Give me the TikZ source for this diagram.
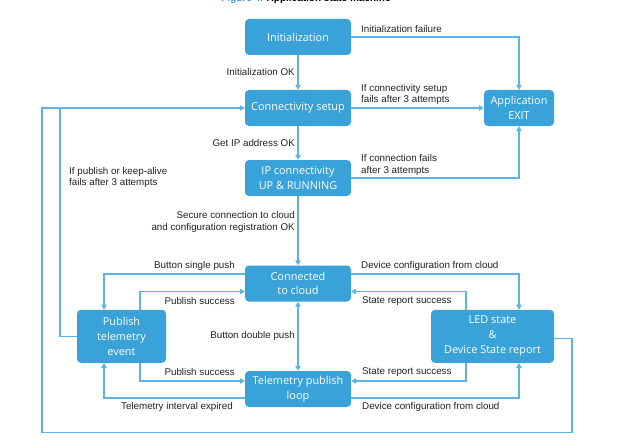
\documentclass[tikz,border=0pt]{standalone}
\usepackage{fontspec}
\setmainfont{Liberation Sans}
\newfontfamily\boxfont{Open Sans}
\usetikzlibrary{arrows.meta}
\definecolor{boxblue}{HTML}{38A2D9}
\definecolor{lineblue}{HTML}{5DB3E2}
\definecolor{labelgray}{HTML}{222222}
\tikzset{
  state/.style={fill=boxblue, rounded corners=4pt, text=white, font=\boxfont\fontsize{10.9}{15}\selectfont, align=center, inner sep=0pt, minimum height=36pt},
  lbl/.style={font=\fontsize{9.8}{11.5}\selectfont, text=labelgray, inner sep=0pt},
  conn/.style={draw=lineblue, line width=1.1pt},
  arr/.style={conn, -{Triangle[length=5pt,width=5.5pt]}},
  darr/.style={conn, {Triangle[length=5pt,width=5.5pt]}-{Triangle[length=5pt,width=5.5pt]}}
}
\begin{document}
\begin{tikzpicture}[x=1pt,y=-1pt]
\useasboundingbox (0,0) rectangle (624,444);
\fill[white] (0,0) rectangle (624,444);
% title (cut off at top)
\node[anchor=base, inner sep=0pt, font=\bfseries\fontsize{10}{12}\selectfont] (title) at (306,1.5) {\textcolor{boxblue}{Figure 4.} Application state machine};
% states
\node[state, minimum width=106pt] (init) at (298,37) {Initialization};
\node[state, minimum width=106pt] (conn) at (298,108) {Connectivity setup};
\node[state, minimum width=70pt] (exit) at (519,108) {Application\\EXIT};
\node[state, minimum width=106pt, font=\boxfont\fontsize{10.9}{14.5}\selectfont] (ip) at (298,178) {IP connectivity\\UP \& RUNNING};
\node[state, minimum width=106pt, font=\boxfont\fontsize{10.9}{14.5}\selectfont] (cloud) at (298,283.5) {Connected\\to cloud};
\node[state, minimum width=89pt, minimum height=53pt] (pub) at (121.5,336.3) {Publish\\telemetry\\event};
\node[state, minimum width=123pt, minimum height=53pt] (led) at (492.5,336.3) {LED state\\\&\\Device State report};
\node[state, minimum width=106pt, font=\boxfont\fontsize{10.9}{14.5}\selectfont] (tel) at (298,389) {Telemetry publish\\loop};
% helper coordinates
\coordinate (o1) at (572,432.7);
\coordinate (o2) at (42,432.7);
\coordinate (j) at (60,108);
% connectors
\draw[arr] (init.east) -| (exit.north);
\draw[arr] (init.south) -- (conn.north);
\draw[arr] (conn.east) -- (exit.west);
\draw[arr] (conn.south) -- (ip.north);
\draw[arr] (ip.east) -| (exit.south);
\draw[arr] (ip.south) -- (cloud.north);
\draw[arr] ([yshift=9.5pt]cloud.west) -| ([xshift=-17.5pt]pub.north);
\draw[arr] ([xshift=18.5pt]pub.north) |- ([yshift=-8pt]cloud.west);
\draw[arr] ([yshift=9.5pt]cloud.east) -| ([xshift=26.5pt]led.north);
\draw[arr] ([xshift=-26.5pt]led.north) |- ([yshift=-8pt]cloud.east);
\draw[darr] (cloud.south) -- (tel.north);
\draw[arr] ([xshift=18.5pt]pub.south) |- ([yshift=8pt]tel.west);
\draw[arr] ([yshift=-9pt]tel.west) -| ([xshift=-17.5pt]pub.south);
\draw[arr] ([xshift=-26.5pt]led.south) |- ([yshift=8pt]tel.east);
\draw[arr] ([yshift=-9pt]tel.east) -| ([xshift=26.5pt]led.south);
\draw[arr] ([yshift=-2.5pt]led.east) -| (o1) -- (o2) |- (conn.west);
\draw[conn] (pub.west) -| (j);
% labels
\node[lbl, anchor=west] (l1) at (361,28.7) {Initialization failure};
\node[lbl, anchor=east] (l2) at (295,72) {Initialization OK};
\node[lbl, anchor=west, align=left] (l3) at (361,94.5) {If connectivity setup\\fails after 3 attempts};
\node[lbl, anchor=east] (l4) at (295,143) {Get IP address OK};
\node[lbl, anchor=west, align=left] (l5) at (361,165) {If connection fails\\after 3 attempts};
\node[lbl, anchor=west, align=left] (l6) at (69,177.5) {If publish or keep-alive\\fails after 3 attempts};
\node[lbl, anchor=east, align=right] (l7) at (295,222) {Secure connection to cloud\\and configuration registration OK};
\node[lbl, anchor=east] (l8) at (235,265.7) {Button single push};
\node[lbl, anchor=west] (l9) at (361,265.7) {Device configuration from cloud};
\node[lbl, anchor=east] (l10) at (235,301) {Publish success};
\node[lbl, anchor=west] (l11) at (362,301) {State report success};
\node[lbl, anchor=east] (l12) at (295,336) {Button double push};
\node[lbl, anchor=east] (l13) at (235,371.7) {Publish success};
\node[lbl, anchor=west] (l14) at (362,371.7) {State report success};
\node[lbl, anchor=east] (l15) at (233,406.7) {Telemetry interval expired};
\node[lbl, anchor=west] (l16) at (362,406.7) {Device configuration from cloud};
\end{tikzpicture}
\end{document}
